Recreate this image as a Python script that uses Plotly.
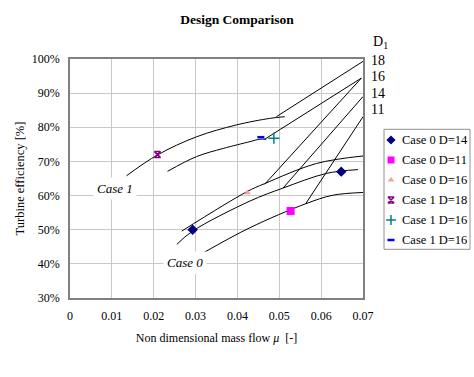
import plotly.graph_objects as go

# ---------------- data ----------------
# Case 1 performance curves (efficiency as fraction)
case1_upper_x = [0.0135, 0.0209, 0.0302, 0.0398, 0.0477, 0.0513]
case1_upper_y = [0.658, 0.719, 0.772, 0.807, 0.826, 0.831]
case1_lower_x = [0.0233, 0.0302, 0.0366, 0.0430, 0.0453, 0.0469]
case1_lower_y = [0.671, 0.714, 0.738, 0.758, 0.765, 0.765]

# Case 0 performance curves
case0_upper_x = [0.0267, 0.0422, 0.0465, 0.0589, 0.0700]
case0_upper_y = [0.496, 0.611, 0.635, 0.694, 0.716]
case0_middle_x = [0.0255, 0.0293, 0.0430, 0.0509, 0.0613, 0.0688]
case0_middle_y = [0.457, 0.496, 0.584, 0.622, 0.665, 0.676]
case0_lower_x = [0.0318, 0.0430, 0.0563, 0.0628, 0.0700]
case0_lower_y = [0.432, 0.506, 0.576, 0.601, 0.609]

# constant-D1 straight lines
d18_x = [0.0493, 0.0700]
d18_y = [0.831, 0.993]
d16a_x = [0.0465, 0.0696]
d16a_y = [0.765, 0.944]
d16b_x = [0.0465, 0.0696]
d16b_y = [0.633, 0.944]
d14_x = [0.0509, 0.0700]
d14_y = [0.622, 0.890]
d11_x = [0.0563, 0.0700]
d11_y = [0.576, 0.831]

# design points
case0_d14_x = [0.0293, 0.0648]
case0_d14_y = [0.500, 0.670]
case0_d11_x = [0.0527]
case0_d11_y = [0.555]
case0_d16_x = [0.0424]
case0_d16_y = [0.608]
case1_d18_x = [0.0209]
case1_d18_y = [0.720]
case1_d16p_x = [0.0487]
case1_d16p_y = [0.768]
case1_d16d_x = [0.0456]
case1_d16d_y = [0.771]

legend_names = ["Case 0 D=14", "Case 0 D=11", "Case 0 D=16", "Case 1 D=18", "Case 1 D=16", "Case 1 D=16"]
d1_labels = ["18", "16", "14", "11"]
d1_label_y = [0.995, 0.949, 0.900, 0.853]
x_ticks = [0, 0.01, 0.02, 0.03, 0.04, 0.05, 0.06, 0.07]
x_tick_text = ["0", "0.01", "0.02", "0.03", "0.04", "0.05", "0.06", "0.07"]
y_ticks = [0.3, 0.4, 0.5, 0.6, 0.7, 0.8, 0.9, 1.0]

FONT = "Liberation Serif"
Y0, Y1 = 0.3, 1.0
W, H = 474, 377
ML, MR, MT, MB = 70, 0, 59, 79
PAPER_W = W - ML - MR
PLOT_W = 293
PLOT_H = H - MT - MB


def px_x(px):
    """pixel column -> paper x fraction"""
    return (px - ML) / PAPER_W


def px_y(py):
    """pixel row -> paper y fraction"""
    return (H - MB - py) / PLOT_H


def yp(v):
    """efficiency value -> paper fraction of the y axis"""
    return (v - Y0) / (Y1 - Y0)


fig = go.Figure()

line_style = dict(color="black", width=1)
for xs, ys in [(case1_upper_x, case1_upper_y), (case1_lower_x, case1_lower_y),
               (case0_upper_x, case0_upper_y), (case0_middle_x, case0_middle_y),
               (case0_lower_x, case0_lower_y)]:
    fig.add_trace(go.Scatter(x=xs, y=ys, mode="lines", line=dict(shape="spline", **line_style),
                             showlegend=False, hoverinfo="skip"))
for xs, ys in [(d18_x, d18_y), (d16a_x, d16a_y), (d16b_x, d16b_y), (d14_x, d14_y), (d11_x, d11_y)]:
    fig.add_trace(go.Scatter(x=xs, y=ys, mode="lines", line=line_style,
                             showlegend=False, hoverinfo="skip"))

marker_styles = [
    dict(symbol="diamond", size=8, color="#000080"),
    dict(symbol="square", size=8, color="#FF00FF"),
    dict(symbol="triangle-up", size=6, color="#F4A0A0"),
    dict(symbol="hourglass-open", size=6, color="#800080", line=dict(width=1.5, color="#800080")),
    dict(symbol="cross-thin-open", size=8, color="#008080", line=dict(width=1.5, color="#008080")),
    dict(symbol="line-ew-open", size=5, color="#0000FF", line=dict(width=2.5, color="#0000FF")),
]
legend_marker_size = [7, 7, 6, 6, 7, 5]
point_sets = [(case0_d14_x, case0_d14_y), (case0_d11_x, case0_d11_y), (case0_d16_x, case0_d16_y),
              (case1_d18_x, case1_d18_y), (case1_d16p_x, case1_d16p_y), (case1_d16d_x, case1_d16d_y)]

for name, (xs, ys), mk in zip(legend_names, point_sets, marker_styles):
    fig.add_trace(go.Scatter(x=xs, y=ys, mode="markers", name=name, marker=mk, showlegend=False))

# legend drawn in its own small axes box (entry index on y)
for i, (name, mk, sz) in enumerate(zip(legend_names, marker_styles, legend_marker_size)):
    fig.add_trace(go.Scatter(x=[7], y=[i], xaxis="x2", yaxis="y2", mode="markers",
                             marker=dict(mk, size=sz), name=name, showlegend=False, hoverinfo="skip"))

annotations = []
for i, name in enumerate(legend_names):
    annotations.append(dict(x=16, y=i, xref="x2", yref="y2", text=name, showarrow=False,
                            xanchor="left", yanchor="middle", font=dict(family=FONT, size=12.5, color="black")))
for lab, yv in zip(d1_labels, d1_label_y):
    annotations.append(dict(x=px_x(369), y=yp(yv), xref="paper", yref="paper", text=lab, showarrow=False,
                            xanchor="left", yanchor="middle", font=dict(family=FONT, size=14, color="black")))
annotations.append(dict(x=px_x(371), y=yp(1.047), xref="paper", yref="paper", text="D<sub>1</sub>",
                        showarrow=False, xanchor="left", yanchor="middle",
                        font=dict(family=FONT, size=14, color="black")))
annotations.append(dict(x=0.01086, y=0.620, xref="x", yref="y", text="<i>Case 1</i>", showarrow=False,
                        bgcolor="white", borderpad=3, font=dict(family=FONT, size=13, color="black")))
annotations.append(dict(x=0.02745, y=0.405, xref="x", yref="y", text="<i>Case 0</i>", showarrow=False,
                        bgcolor="white", borderpad=3, font=dict(family=FONT, size=13, color="black")))

fig.update_layout(
    width=W, height=H,
    margin=dict(l=ML, r=MR, t=MT, b=MB, autoexpand=False),
    paper_bgcolor="white", plot_bgcolor="white",
    font=dict(family=FONT, size=12, color="black"),
    showlegend=False,
    title=dict(text="<b>Design Comparison</b>", x=237 / W, xref="container", xanchor="center",
               y=1 - 19 / H, yref="container", yanchor="middle",
               font=dict(family=FONT, size=13.5, color="black")),
    xaxis=dict(domain=[0, PLOT_W / PAPER_W], range=[0, 0.07], tickvals=x_ticks, ticktext=x_tick_text,
               showgrid=True, gridcolor="#c8c8c8", gridwidth=1, showline=True, linecolor="#808080",
               linewidth=1.5, mirror=True, zeroline=False, ticks="", ticklabelstandoff=6, automargin=False,
               tickfont=dict(family=FONT, size=12),
               title=dict(text="Non dimensional mass flow <i>μ</i>  [-]", font=dict(family=FONT, size=12),
                          standoff=11)),
    yaxis=dict(range=[Y0, Y1], tickvals=y_ticks, tickformat=".0%", showgrid=True,
               gridcolor="#c8c8c8", gridwidth=1, showline=True, linecolor="#808080", linewidth=1.5,
               mirror=True, zeroline=False, ticks="", ticklabelstandoff=6, automargin=False,
               tickfont=dict(family=FONT, size=12),
               title=dict(text="Turbine efficiency [%]", font=dict(family=FONT, size=12.5), standoff=4)),
    xaxis2=dict(domain=[px_x(384), px_x(470)], range=[0, 86], anchor="y2", visible=False, fixedrange=True),
    yaxis2=dict(domain=[px_y(249.3), px_y(129.3)], range=[5.465, -0.535], anchor="x2", visible=False,
                fixedrange=True),
    shapes=[dict(type="rect", xref="x2 domain", yref="y2 domain", x0=0, x1=1, y0=0, y1=1,
                 line=dict(color="#909090", width=1), fillcolor="rgba(0,0,0,0)", layer="above")],
    annotations=annotations,
)

fig.write_html("out.html", config={"displayModeBar": False},
               post_script="document.body.style.margin='0';")
